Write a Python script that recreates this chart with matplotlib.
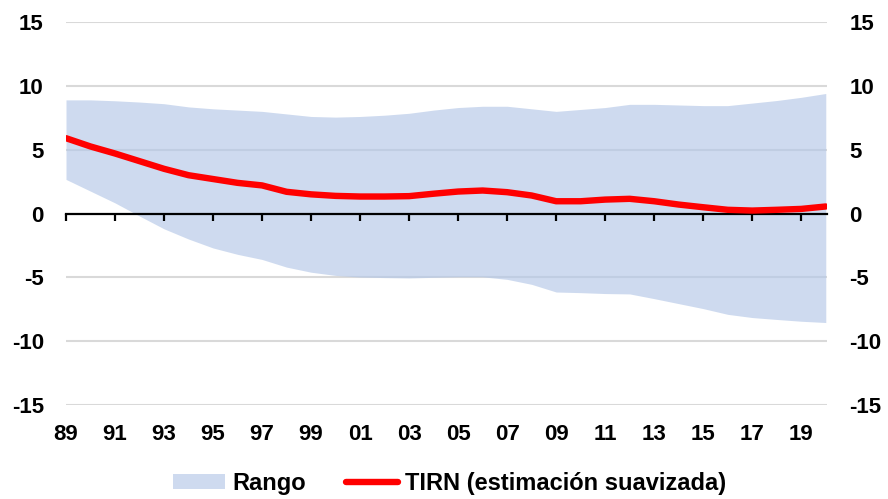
import matplotlib
matplotlib.use("Agg")
import matplotlib.pyplot as plt
from matplotlib.patches import Patch
from matplotlib.lines import Line2D

# Years 1989..2020 (annual readings)
years = list(range(1989, 2021))

rango_sup = [8.9, 8.9, 8.83, 8.73, 8.6, 8.35, 8.2, 8.1, 8.0, 7.8,
             7.6, 7.55, 7.6, 7.7, 7.85, 8.1, 8.3, 8.4, 8.4, 8.2,
             8.0, 8.15, 8.3, 8.55, 8.55, 8.5, 8.45, 8.45, 8.65, 8.85,
             9.1, 9.4]

rango_inf = [2.67, 1.75, 0.83, -0.2, -1.2, -2.0, -2.7, -3.2, -3.6, -4.2,
             -4.6, -4.85, -4.98, -5.02, -5.05, -5.0, -4.96, -4.96, -5.16, -5.55,
             -6.15, -6.2, -6.27, -6.3, -6.67, -7.06, -7.45, -7.9, -8.15, -8.3,
             -8.44, -8.54]

tirn = [5.9, 5.25, 4.7, 4.1, 3.5, 3.0, 2.7, 2.4, 2.2, 1.7,
        1.5, 1.38, 1.33, 1.33, 1.36, 1.55, 1.72, 1.8, 1.67, 1.41,
        0.96, 0.96, 1.09, 1.15, 0.96, 0.7, 0.49, 0.29, 0.23, 0.29,
        0.36, 0.55]

tick_years = list(range(1989, 2020, 2))
tick_labels = [f"{y % 100:02d}" for y in tick_years]
y_ticks = [-15, -10, -5, 0, 5, 10, 15]

plt.rcParams["font.family"] = ["Liberation Sans", "DejaVu Sans"]
plt.rcParams["font.weight"] = "bold"
plt.rcParams["font.size"] = 16

fig = plt.figure(figsize=(8.88, 4.99), dpi=100)
ax = fig.add_axes([66 / 888, 1 - 405 / 499, (827 - 66) / 888, (405 - 22) / 499])
ax.set_axisbelow(False)

# horizontal grid
for v in y_ticks:
    if v != 0:
        ax.axhline(v, color="#d9d9d9", lw=1.5, zorder=1)

ax.fill_between(years, rango_inf, rango_sup, color="#b4c7e7", alpha=0.65,
                lw=0, zorder=2)
ax.plot(years, tirn, color="#ff0000", lw=4.6, solid_capstyle="round", zorder=4)

ax.set_xlim(1989, 2020.05)
ax.set_ylim(-15, 15)

# x axis line at zero with tick marks, labels at the bottom
for s in ["top", "right", "left"]:
    ax.spines[s].set_visible(False)
ax.spines["bottom"].set_position(("data", 0))
ax.spines["bottom"].set_linewidth(1.6)
ax.spines["bottom"].set_zorder(3)
ax.set_xticks(tick_years)
ax.tick_params(axis="x", direction="out", length=5, width=1.6,
               color="black", labelbottom=False)

sec = ax.secondary_xaxis("bottom")
sec.set_xticks(tick_years)
sec.set_xticklabels(tick_labels, fontweight="bold")
sec.spines["bottom"].set_visible(False)
sec.tick_params(axis="x", length=0, pad=14)

ax.set_yticks(y_ticks)
ax.set_yticklabels([str(v) for v in y_ticks])
ax.tick_params(axis="y", length=0, pad=16, labelleft=True, labelright=True)

handles = [Patch(facecolor="#b4c7e7", alpha=0.65, edgecolor="none"),
           Line2D([], [], color="#ff0000", lw=4.6, solid_capstyle="round")]
fig.legend(handles, ["Rango", "TIRN (estimación suavizada)"],
           loc="lower center", bbox_to_anchor=(0.506, -0.035), ncol=2,
           frameon=False, handlelength=2.2, handleheight=0.6,
           columnspacing=1.7, handletextpad=0.3,
           prop={"weight": "bold", "size": 17})

fig.savefig("out.png", dpi=100)
